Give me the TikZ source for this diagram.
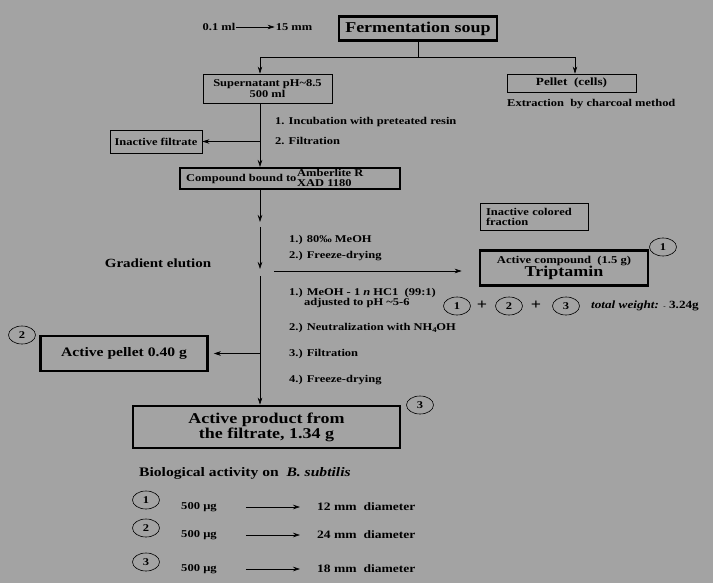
\documentclass[tikz,border=0pt]{standalone}
\usepackage{fontspec}
\setmainfont{Liberation Serif}[FakeStretch=1.2]
\usetikzlibrary{arrows.meta,shapes.geometric}
\definecolor{bggray}{RGB}{163,163,163}
\begin{document}
\begin{tikzpicture}[x=1pt,y=-1pt,
		every node/.style={font=\bfseries\fontsize{10.4}{10.5}\selectfont, inner sep=1pt},
		box/.style={draw, line width=0.8pt, align=center},
		bigbox/.style={draw, line width=2.6pt, align=center},
		num/.style={draw, ellipse, line width=0.6pt, minimum width=27pt, minimum height=18pt, inner sep=0pt},
		arr/.style={-{Stealth[length=7pt,width=4.5pt]}, line width=0.6pt}]
		\fill[bggray] (0,0) rectangle (713,583);
		\useasboundingbox (0,0) rectangle (713,583);
		\coordinate (trunk) at (260,0);

		% top
		\node (vol) at (219,27) {0.1 ml};
		\node (len) at (294,27) {15 mm};
		\draw[arr] (vol) -- (len);
		\node[bigbox, minimum width=158pt, minimum height=24pt, font=\bfseries\fontsize{15}{16}\selectfont] (ferm) at (418,28.5) {Fermentation soup};
		\coordinate (split) at (418,57);
		\node[box, minimum width=129pt, minimum height=29pt] (sup) at (267.5,88.5) {Supernatant pH\textasciitilde8.5\\500 ml};
		\node[box, minimum width=129pt, minimum height=18pt, font=\bfseries\fontsize{11}{12}\selectfont] (pel) at (571.5,83) {Pellet~ (cells)};
		\node[anchor=west] (extr) at (506,104) {Extraction~ by charcoal method};
		\draw (ferm) -- (split);
		\draw[arr] (split) -| (sup.north -| trunk);
		\draw[arr] (split) -| ([xshift=3.5pt]pel.north);

		% resin
		\node[anchor=west] (inc) at (274,122) {1. Incubation with preteated resin};
		\node[anchor=west] (filt) at (274,141) {2. Filtration};
		\node[box, minimum width=92pt, minimum height=23pt] (inact) at (156,141.5) {Inactive filtrate};
		\node[draw, line width=2pt, minimum width=220pt, minimum height=21pt] (comp) at (290,178.5) {};
		\node[anchor=west] (bound) at (185,179) {Compound bound to};
		\node[anchor=west, align=left, font=\bfseries\fontsize{10.4}{10}\selectfont] (amb) at (296,178) {Amberlite R\\XAD 1180};
		\draw[arr] (sup.south -| trunk) -- (comp.north -| trunk);
		\draw[arr] (inact.east -| trunk) -- (inact.east);

		% elution
		\node[font=\bfseries\fontsize{12.5}{13}\selectfont] (grad) at (158,263) {Gradient elution};
		\node[box, align=left, minimum width=108pt, minimum height=27pt, text width=96pt, font=\bfseries\fontsize{10.4}{10}\selectfont] (colfr) at (534,217) {Inactive colored\\fraction};
		\node[anchor=west] (s1) at (288,240) {1.) 80‰ MeOH};
		\node[anchor=west] (s2) at (288,256) {2.) Freeze-drying};
		\node[bigbox, minimum width=168pt, minimum height=35pt, font=\bfseries\fontsize{10.5}{13}\selectfont] (act) at (564,268) {Active compound~ (1.5 g)\\{\fontsize{15}{13}\selectfont Triptamin}};
		\node[num] (n1) at (663,247) {1};
		\coordinate (e1) at (260,222);
		\coordinate (e2) at (260,227);
		\coordinate (e3) at (260,269);
		\coordinate (e4) at (260,276);
		\coordinate (hz) at (274,271);
		\draw[arr] (comp.south -| trunk) -- (e1);
		\draw[arr] (e2) -- (e3);
		\draw[arr] (hz) -- ([xshift=-17pt]act.west |- hz);

		\node[anchor=west] (m1) at (288,293) {1.) MeOH - 1 \textit{n} HC1~ (99:1)};
		\node[anchor=west] (m2) at (303,303) {adjusted to pH \textasciitilde5-6};
		\node[anchor=west] (m3) at (288,328) {2.) Neutralization with NH$_\mathbf{4}$OH};
		\node[anchor=west] (m4) at (288,354) {3.) Filtration};
		\node[anchor=west] (m5) at (288,380) {4.) Freeze-drying};

		% sum
		\node[num] (t1) at (457,306) {1};
		\node[font=\bfseries\fontsize{15}{15}\selectfont] (p1) at (482,305) {+};
		\node[num] (t2) at (509,306) {2};
		\node[font=\bfseries\fontsize{15}{15}\selectfont] (p2) at (536,305) {+};
		\node[num] (t3) at (566,306) {3};
		\node[anchor=west, font=\bfseries\fontsize{11}{12}\selectfont] (tw) at (590,306) {\textit{total weight:} {\fontsize{6}{6}\selectfont -} 3.24g};

		% products
		\node[bigbox, minimum width=167pt, minimum height=35pt, font=\bfseries\fontsize{13}{14}\selectfont] (pell) at (124,353.5) {Active pellet 0.40 g};
		\node[num] (n2) at (22,335) {2};
		\node[bigbox, minimum width=267pt, minimum height=42pt, font=\bfseries\fontsize{15}{15}\selectfont] (prod) at (266.5,427) {Active product from\\the filtrate, 1.34 g};
		\node[num] (n3) at (420,405) {3};
		\draw[arr] (e4) -- (prod.north -| trunk);
		\draw[arr] (pell.east -| trunk) -- ([xshift=5pt]pell.east);

		% activity
		\node[anchor=west, font=\bfseries\fontsize{13}{14}\selectfont] (bio) at (138,473) {Biological activity on~ \textit{B. subtilis}};
		\foreach \n/\y/\d in {1/507/12, 2/535/24, 3/569/18}{
			\node[num] (b\n) at (146,\y-7) {\n};
			\node[anchor=west, font=\bfseries\fontsize{10.5}{11}\selectfont] (dose\n) at (180,\y) {500 μg};
			\node[anchor=west, font=\bfseries\fontsize{11.3}{12}\selectfont] (res\n) at (316,\y) {\d~mm~ diameter};
			\draw[arr, shorten <=28pt, shorten >=16pt] (dose\n) -- (res\n);
		}
		\end{tikzpicture}
\end{document}
